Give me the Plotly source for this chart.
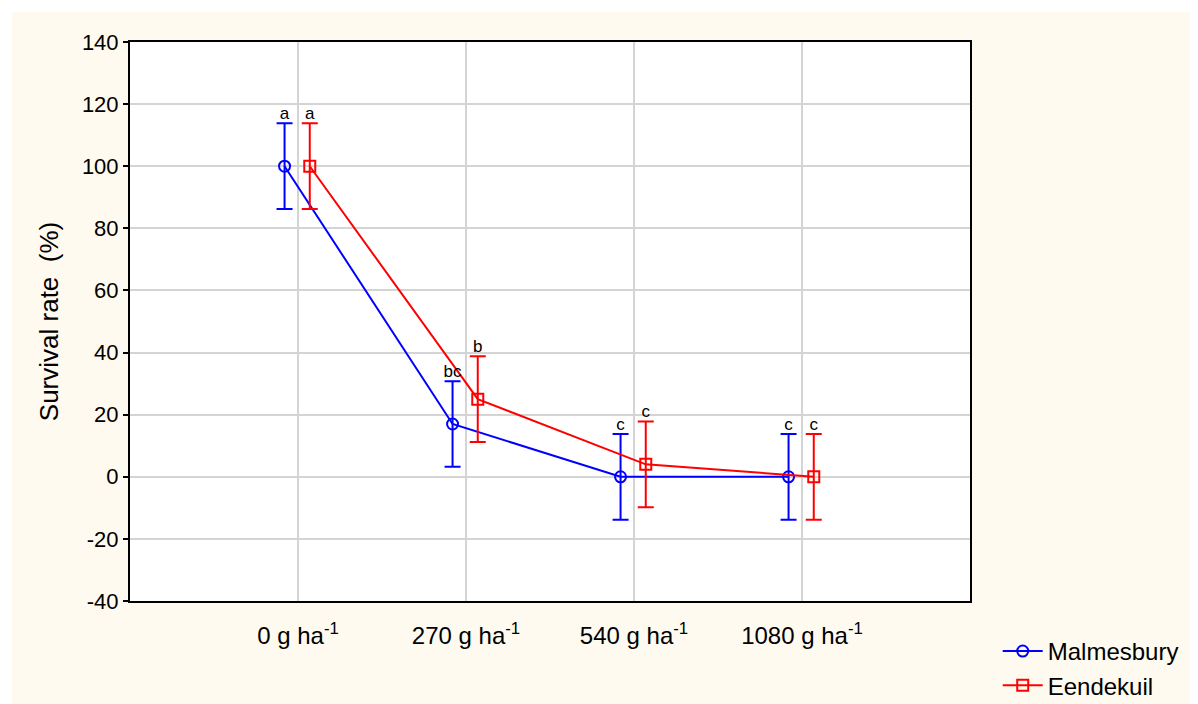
import plotly.graph_objects as go

categories = ["0 g ha<sup>-1</sup>", "270 g ha<sup>-1</sup>", "540 g ha<sup>-1</sup>", "1080 g ha<sup>-1</sup>"]
cat_pos = [1, 2, 3, 4]

malmesbury = [100, 17, 0, 0]
malmesbury_err = [13.8, 13.8, 13.8, 13.8]
malmesbury_letters = ["a", "bc", "c", "c"]

eendekuil = [100, 25, 4, 0]
eendekuil_err = [13.8, 13.8, 13.8, 13.8]
eendekuil_letters = ["a", "b", "c", "c"]

y_ticks = [-40, -20, 0, 20, 40, 60, 80, 100, 120, 140]
y_ticktext = [str(v) for v in y_ticks]

off_m = -0.08
off_e = 0.07
xm = [p + off_m for p in cat_pos]
xe = [p + off_e for p in cat_pos]

FONT = "Liberation Sans, Arial, sans-serif"
BLUE = "#0000FF"
RED = "#FF0000"

fig = go.Figure()

fig.add_trace(go.Scatter(
    x=xm, y=malmesbury, mode="lines+markers", name="Malmesbury",
    line=dict(color=BLUE, width=2),
    marker=dict(symbol="circle-open", size=11, color=BLUE, line=dict(width=2)),
    error_y=dict(type="data", array=malmesbury_err, color=BLUE, thickness=2, width=8),
))
fig.add_trace(go.Scatter(
    x=xe, y=eendekuil, mode="lines+markers", name="Eendekuil",
    line=dict(color=RED, width=2),
    marker=dict(symbol="square-open", size=11, color=RED, line=dict(width=2)),
    error_y=dict(type="data", array=eendekuil_err, color=RED, thickness=2, width=8),
))

fig.add_trace(go.Scatter(
    x=xm, y=[v + e for v, e in zip(malmesbury, malmesbury_err)],
    mode="text", text=malmesbury_letters, textposition="top center",
    textfont=dict(family=FONT, size=17, color="black"), showlegend=False, hoverinfo="skip",
))
fig.add_trace(go.Scatter(
    x=xe, y=[v + e for v, e in zip(eendekuil, eendekuil_err)],
    mode="text", text=eendekuil_letters, textposition="top center",
    textfont=dict(family=FONT, size=17, color="black"), showlegend=False, hoverinfo="skip",
))

CREAM = "#FEFAF0"
fig.update_layout(
    width=1190, height=696,
    margin=dict(l=122, r=228, t=34, b=103, autoexpand=False),
    paper_bgcolor="white",
    plot_bgcolor="white",
    font=dict(family=FONT, size=22, color="black"),
    shapes=[
        dict(type="rect", xref="paper", yref="paper", x0=-0.1405, x1=1.3, y0=-0.2, y1=1.0537,
             fillcolor=CREAM, line=dict(width=0), layer="below"),
        dict(type="rect", xref="paper", yref="paper", x0=0, x1=1, y0=0, y1=1,
             fillcolor="white", line=dict(width=0), layer="below"),
    ],
    legend=dict(x=1.033, y=-0.05, xanchor="left", yanchor="top",
                font=dict(family=FONT, size=24, color="black"),
                bgcolor="rgba(0,0,0,0)", tracegroupgap=0, itemwidth=40),
    showlegend=True,
)

fig.update_xaxes(
    range=[0, 5], tickvals=cat_pos, ticktext=categories,
    showgrid=True, gridcolor="#D4D4D4", gridwidth=2,
    showline=True, linecolor="black", linewidth=2, mirror=True,
    ticks="", ticklabelstandoff=12, tickfont=dict(family=FONT, size=24),
    zeroline=False,
)
fig.update_yaxes(
    range=[-40, 140], tickvals=y_ticks, ticktext=y_ticktext,
    showgrid=True, gridcolor="#D4D4D4", gridwidth=2,
    showline=True, linecolor="black", linewidth=2, mirror=True,
    ticks="outside", ticklen=5, tickcolor="black", tickwidth=2,
    tickfont=dict(family=FONT, size=22),
    zeroline=False,
    title=dict(text="Survival rate  (%)", font=dict(family=FONT, size=26), standoff=16),
)

fig.write_html("out.html")
